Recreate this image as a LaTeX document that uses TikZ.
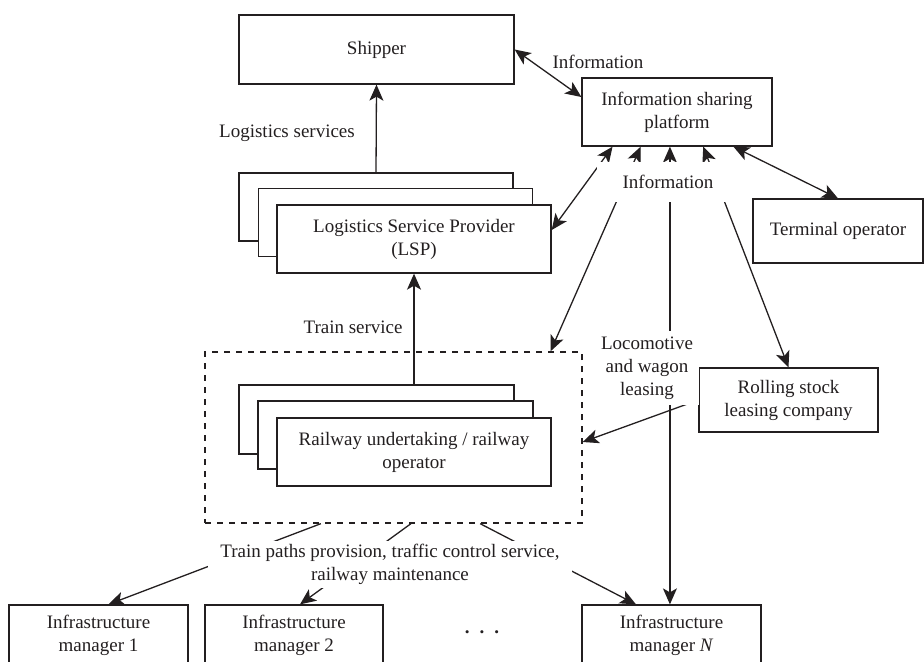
\documentclass[tikz,border=0pt]{standalone}
\usepackage{fontspec}
\setmainfont{Liberation Serif}
\usetikzlibrary{arrows.meta,calc}
\definecolor{linec}{RGB}{35,31,32}
\tikzset{
  blk/.style={draw=linec,line width=0.65pt,fill=white,align=center,inner sep=0pt,text=linec},
  lbl/.style={align=center,text=linec,inner sep=0pt},
  arr/.style={draw=linec,line width=0.65pt,-{Stealth[length=8pt,width=7pt,inset=2pt]}},
  darr/.style={draw=linec,line width=0.65pt,{Stealth[length=8pt,width=7pt,inset=2pt]}-{Stealth[length=8pt,width=7pt,inset=2pt]}},
}

\begin{document}
\begin{tikzpicture}[x=0.5pt,y=-0.5pt,font=\fontsize{9.5}{11.5}\selectfont]
\useasboundingbox (0,0) rectangle (924,661);

\node[blk,minimum width=137.5pt,minimum height=34.5pt] (shipper) at (376.5,49.5) {Shipper};
\node[blk,minimum width=95pt,minimum height=34pt] (platform) at (677,112) {Information sharing\\platform};

% LSP stack
\node[blk,minimum width=137pt,minimum height=34pt] (lsp3) at (376,207) {};
\node[blk,minimum width=137pt,minimum height=34pt] (lsp2) at (395.5,222.5) {};
\node[blk,minimum width=137pt,minimum height=34pt] (lsp1) at (414,239) {Logistics Service Provider\\(LSP)};

% railway operators in dashed frame
\node[draw=linec,dashed,line width=0.65pt,minimum width=188.5pt,minimum height=85.5pt,inner sep=0pt] (rubox) at (393.5,437.5) {};
\node[blk,minimum width=137.5pt,minimum height=34.5pt] (rail3) at (376.5,419.5) {};
\node[blk,minimum width=137.5pt,minimum height=34pt] (rail2) at (395.5,435) {};
\node[blk,minimum width=137pt,minimum height=34pt] (rail1) at (414,452) {Railway undertaking / railway\\operator};

\node[blk,minimum width=85pt,minimum height=32pt] (terminal) at (838,231) {Terminal operator};
\node[blk,minimum width=89.5pt,minimum height=32pt] (rolling) at (788.5,400) {Rolling stock\\leasing company};

% infrastructure managers
\node[blk,minimum width=89.5pt,minimum height=30pt] (im1) at (98.5,635) {Infrastructure\\manager 1};
\node[blk,minimum width=89pt,minimum height=30pt] (im2) at (294,635) {Infrastructure\\manager 2};
\node[blk,minimum width=89.5pt,minimum height=30pt] (imN) at (671.5,635) {Infrastructure\\manager \textit{N}};
\node[lbl] (dots) at (482,632) {\textbf{.}\hspace{5pt}\textbf{.}\hspace{5pt}\textbf{.}};

\draw[darr] (shipper.east) -- ([yshift=7.5pt]platform.west);
\draw[arr] (lsp3.north) -- (shipper.south);
\draw[arr] (rail3.north -| lsp1.south) -- (lsp1.south);
\draw[darr] ([yshift=4.5pt]lsp1.east) -- ($(platform.south west)!0.163!(platform.south east)$);
\draw[darr] ($(rubox.north west)!0.915!(rubox.north east)$) -- ($(platform.south west)!0.31!(platform.south east)$);
\draw[darr] ($(platform.south west)!0.463!(platform.south east)$) coordinate (pv) -- (pv |- imN.north);
\draw[darr] ($(platform.south west)!0.637!(platform.south east)$) -- (rolling.north);
\draw[darr] ($(platform.south west)!0.795!(platform.south east)$) -- (terminal.north);
\draw[arr] (rolling.west) -- ([yshift=-2.25pt]rubox.east);
\draw[arr] ($(rubox.south west)!0.308!(rubox.south east)$) -- ([xshift=5pt]im1.north);
\draw[arr] ($(rubox.south west)!0.546!(rubox.south east)$) -- ([xshift=3pt]im2.north);
\draw[arr] ($(rubox.south west)!0.729!(rubox.south east)$) -- ([xshift=-17.75pt]imN.north);

% labels
\node[lbl] (infotop) at (598,62) {Information};
\node[lbl] (logserv) at (287,133) {Logistics services};
\node[lbl,anchor=east] (trainserv) at (403,327) {Train service};
\node[lbl,fill=white,minimum width=71pt,minimum height=20pt] (infomid) at (668,182) {Information};
\node[lbl,fill=white,inner sep=3pt] (loco) at (647,368) {Locomotive\\and wagon\\leasing};
\node[lbl,fill=white,minimum width=182pt,minimum height=23.5pt] (paths) at (390,564) {Train paths provision, traffic control service,\\railway maintenance};

\end{tikzpicture}
\end{document}
